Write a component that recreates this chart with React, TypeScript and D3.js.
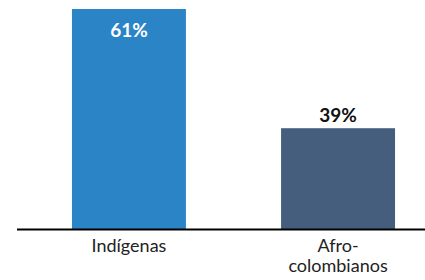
import React from "react";
import * as d3 from "d3";

const categories = ["Indígenas", "Afro-colombianos"];
const labelLines = [["Indígenas"], ["Afro-", "colombianos"]];
const values = [61, 39];
const colors = ["#2a84c6", "#465e7e"];

const W = 425;
const H = 280;

const App = () => {
  const x = d3
    .scaleBand<string>()
    .domain(categories)
    .range([24.5, 442.5])
    .paddingInner(0.455)
    .paddingOuter(0.227);
  const y = d3.scaleLinear().domain([20.4, 61]).range([229, 9]);
  const fmt = (v: number) => `${v}%`;

  return (
    <svg
      width={W}
      height={H}
      style={{ position: "absolute", left: 0, top: 0, fontFamily: "Lato, sans-serif" }}
    >
      <rect width={W} height={H} fill="#fff" />
      {categories.map((c, i) => {
        const bx = x(c) as number;
        const cx = bx + x.bandwidth() / 2;
        const inside = i === 0;
        return (
          <g key={c}>
            <rect
              x={bx}
              y={y(values[i])}
              width={x.bandwidth()}
              height={y(20.4) - y(values[i])}
              fill={colors[i]}
            />
            <text
              x={cx}
              y={inside ? y(values[i]) + 27.5 : y(values[i]) - 6}
              textAnchor="middle"
              fontSize={19}
              fontWeight="bold"
              fill={inside ? "#fff" : "#111"}
            >
              {fmt(values[i])}
            </text>
            {labelLines[i].map((t, j) => (
              <text
                key={t}
                x={cx}
                y={252 + j * 20}
                textAnchor="middle"
                fontSize={18}
                fill="#222"
              >
                {t}
              </text>
            ))}
          </g>
        );
      })}
      <line x1={17} x2={W} y1={229.5} y2={229.5} stroke="#000" strokeWidth={2} />
    </svg>
  );
};

export default App;
